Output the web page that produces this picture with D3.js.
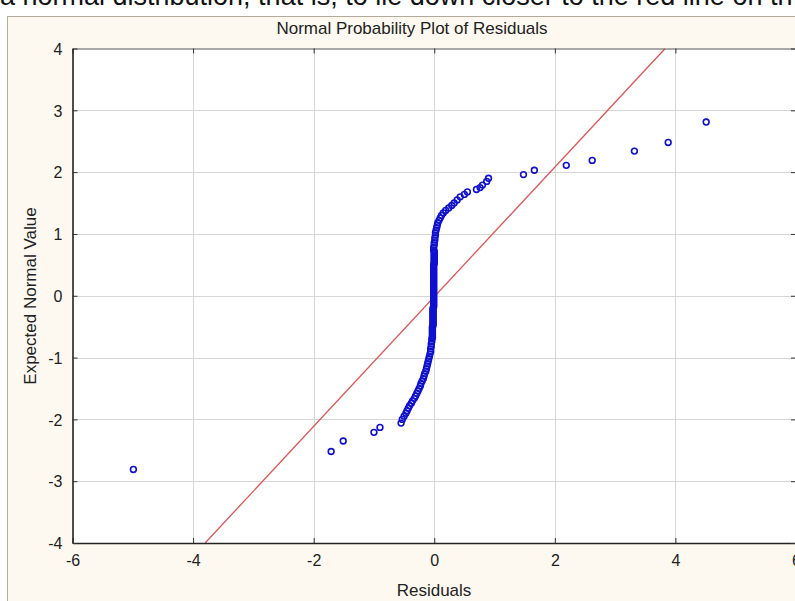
<!DOCTYPE html>
<html>
<head>
<meta charset="utf-8">
<script src="https://cdn.jsdelivr.net/npm/d3@7"></script>
<style>
  html, body { margin: 0; padding: 0; background: #ffffff; overflow: hidden; }
  svg { display: block; font-family: Arial, "Liberation Sans", sans-serif; }
</style>
</head>
<body>
<script>
// ---- Data ----
const residuals = [
  -4.99, -1.71, -1.51, -1.00, -0.90,
  -0.55, -0.53, -0.50, -0.47, -0.45, -0.43, -0.41, -0.38, -0.36, -0.33,
  -0.31, -0.29, -0.27, -0.25, -0.23, -0.22, -0.20, -0.18, -0.17, -0.16,
  -0.14, -0.13, -0.12, -0.11, -0.10, -0.09, -0.08, -0.07, -0.06, -0.06,
  -0.05, -0.05, -0.04, -0.04,
  -0.03, -0.03, -0.03, -0.03, -0.03, -0.03, -0.03, -0.03, -0.03, -0.03,
  -0.02, -0.02, -0.02, -0.02, -0.02, -0.02, -0.02, -0.02, -0.02, -0.02,
  -0.02, -0.02, -0.02, -0.02, -0.02,
  -0.01, -0.01, -0.01, -0.01, -0.01, -0.01, -0.01, -0.01, -0.01, -0.01,
  -0.01, -0.01, -0.01, -0.01, -0.01, -0.01, -0.01, -0.01, -0.01, -0.01,
  -0.01, -0.01, -0.01, -0.01, -0.01, -0.01, -0.01, -0.01, -0.01, -0.01,
  -0.01, -0.01, -0.01, -0.01, -0.01,
  0.00, 0.00, 0.00, 0.00, 0.00, 0.00, 0.00, 0.00, 0.00, 0.00, 0.00,
  -0.01, -0.01, 0.00, 0.00, 0.01, 0.01, 0.02, 0.02, 0.03, 0.04,
  0.05, 0.06, 0.08, 0.10, 0.12, 0.15, 0.19, 0.24, 0.29, 0.33,
  0.38, 0.43, 0.50, 0.55, 0.70, 0.76, 0.80, 0.87, 0.90,
  1.48, 1.66, 2.19, 2.62, 3.32, 3.88, 4.51
];
const expectedValues = [
  -2.81, -2.52, -2.35, -2.21, -2.13,
  -2.06, -2.00, -1.95, -1.90, -1.86, -1.82, -1.78, -1.74, -1.70, -1.66,
  -1.62, -1.58, -1.54, -1.50, -1.46, -1.42, -1.38, -1.34, -1.30, -1.26,
  -1.22, -1.18, -1.14, -1.10, -1.06, -1.02, -0.98, -0.94, -0.90, -0.86,
  -0.82, -0.78, -0.74, -0.70,
  -0.68, -0.66, -0.64, -0.62, -0.60, -0.58, -0.56, -0.54, -0.52, -0.50,
  -0.48, -0.46, -0.44, -0.42, -0.40, -0.38, -0.36, -0.34, -0.32, -0.30,
  -0.28, -0.26, -0.24, -0.22, -0.20,
  -0.18, -0.16, -0.14, -0.12, -0.10, -0.08, -0.06, -0.04, -0.02, 0.00,
  0.02, 0.04, 0.06, 0.08, 0.10, 0.12, 0.14, 0.16, 0.18, 0.20,
  0.22, 0.24, 0.26, 0.28, 0.30, 0.32, 0.34, 0.36, 0.38, 0.40,
  0.42, 0.44, 0.46, 0.48, 0.50,
  0.52, 0.54, 0.56, 0.58, 0.60, 0.62, 0.64, 0.66, 0.68, 0.70, 0.72,
  0.74, 0.78, 0.82, 0.86, 0.90, 0.94, 0.98, 1.02, 1.06, 1.10,
  1.14, 1.18, 1.22, 1.26, 1.30, 1.34, 1.38, 1.42, 1.46, 1.50,
  1.55, 1.60, 1.64, 1.68, 1.72, 1.75, 1.79, 1.85, 1.90,
  1.96, 2.03, 2.11, 2.19, 2.34, 2.48, 2.81
];
// Reference (normal) line endpoints
const refLineX = [-3.80, 3.83];
const refLineY = [-4, 4];
// Axis ticks
const xTicks = [-6, -4, -2, 0, 2, 4, 6];
const yTicks = [-4, -3, -2, -1, 0, 1, 2, 3, 4];

const title = "Normal Probability Plot of Residuals";
const xLabel = "Residuals";
const yLabel = "Expected Normal Value";
const pageText = "a normal distribution, that is, to lie down closer to the red line on th";

// ---- Drawing ----
const W = 795, H = 601;
const svg = d3.select("body").append("svg").attr("width", W).attr("height", H);

// page text above the panel (cut off at the top edge, as in the reference)
svg.append("text").attr("x", 0).attr("y", 5)
  .attr("font-size", 27).attr("fill", "#111").text(pageText);

// panel
svg.append("rect").attr("x", 7.5).attr("y", 16.5).attr("width", W).attr("height", H)
  .attr("fill", "#fdf9f1").attr("stroke", "#b3aa9c").attr("stroke-width", 1);

const pLeft = 72.5, pRight = 796, pTop = 48.5, pBottom = 543;
const x = d3.scaleLinear().domain([-6, 6]).range([pLeft, pRight]);
const y = d3.scaleLinear().domain([-4, 4]).range([pBottom, pTop]);

// plot area
svg.append("rect").attr("x", pLeft).attr("y", pTop).attr("width", pRight - pLeft).attr("height", pBottom - pTop)
  .attr("fill", "#ffffff");

// gridlines
const grid = svg.append("g").attr("stroke", "#d6d6d6").attr("stroke-width", 1);
grid.selectAll(".gx").data(xTicks.slice(1, -1)).join("line")
  .attr("x1", d => Math.round(x(d)) + 0.5).attr("x2", d => Math.round(x(d)) + 0.5)
  .attr("y1", pTop).attr("y2", pBottom);
grid.selectAll(".gy").data(yTicks.slice(1, -1)).join("line")
  .attr("y1", d => Math.round(y(d)) + 0.5).attr("y2", d => Math.round(y(d)) + 0.5)
  .attr("x1", pLeft).attr("x2", pRight);

// clip
svg.append("clipPath").attr("id", "clip").append("rect")
  .attr("x", pLeft).attr("y", pTop).attr("width", pRight - pLeft).attr("height", pBottom - pTop);

// reference line
const lineGen = d3.line().x(d => x(d[0])).y(d => y(d[1]));
svg.append("path").attr("clip-path", "url(#clip)")
  .datum(refLineX.map((v, i) => [v, refLineY[i]]))
  .attr("d", lineGen).attr("fill", "none").attr("stroke", "#e05555").attr("stroke-width", 1.3);

// points
svg.append("g").attr("clip-path", "url(#clip)")
  .selectAll("circle").data(residuals.map((v, i) => [v, expectedValues[i]])).join("circle")
  .attr("cx", d => x(d[0])).attr("cy", d => y(d[1])).attr("r", 2.9)
  .attr("fill", "none").attr("stroke", "#1010d0").attr("stroke-width", 1.6);

// axes (inward ticks on all sides)
const tickLen = 5;
const fmt = d => String(d);
const axB = svg.append("g").attr("transform", `translate(0,${pBottom})`)
  .call(d3.axisBottom(x).tickValues(xTicks).tickSizeInner(-tickLen).tickSizeOuter(0).tickPadding(9).tickFormat(fmt));
const axT = svg.append("g").attr("transform", `translate(0,${pTop})`)
  .call(d3.axisTop(x).tickValues(xTicks).tickSizeInner(-tickLen).tickSizeOuter(0).tickFormat(""));
const axL = svg.append("g").attr("transform", `translate(${pLeft},0)`)
  .call(d3.axisLeft(y).tickValues(yTicks).tickSizeInner(-tickLen).tickSizeOuter(0).tickPadding(9).tickFormat(fmt));
const axR = svg.append("g").attr("transform", `translate(${pRight},0)`)
  .call(d3.axisRight(y).tickValues(yTicks).tickSizeInner(-tickLen).tickSizeOuter(0).tickFormat(""));

[axB, axT, axL, axR].forEach(a => {
  a.select(".domain").attr("stroke", "#222").attr("stroke-width", 1.6);
  a.selectAll(".tick line").attr("stroke", "#333").attr("stroke-width", 1);
  a.selectAll("text").attr("font-family", "Arial, 'Liberation Sans', sans-serif")
    .attr("font-size", 16).attr("fill", "#222");
});
axT.select(".domain").attr("stroke", "#555").attr("stroke-width", 1.2);
axL.selectAll("text").attr("dy", "0.36em").attr("x", -10);
axB.selectAll("text").attr("dy", "0.85em");

// title and axis labels
svg.append("text").attr("x", 412).attr("y", 34).attr("text-anchor", "middle")
  .attr("font-size", 17).attr("fill", "#222").text(title);
svg.append("text").attr("x", 434).attr("y", 596).attr("text-anchor", "middle")
  .attr("font-size", 17).attr("fill", "#222").text(xLabel);
svg.append("text").attr("transform", "translate(36,296) rotate(-90)").attr("text-anchor", "middle")
  .attr("font-size", 17).attr("fill", "#222").text(yLabel);
</script>
</body>
</html>
